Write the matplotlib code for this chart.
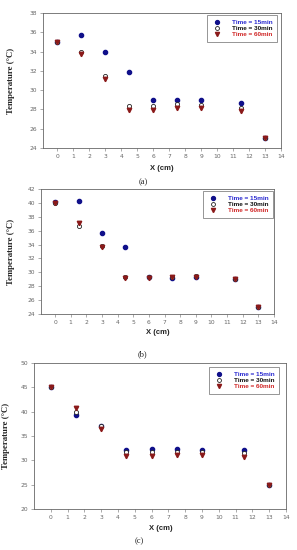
import matplotlib
matplotlib.use("Agg")
import matplotlib.pyplot as plt
from matplotlib.lines import Line2D

x = [0, 1.5, 3, 4.5, 6, 7.5, 9, 11.5, 13]

a_15 = [35.0, 35.7, 34.0, 31.9, 29.0, 29.0, 29.0, 28.7, 25.0]
a_30 = [35.0, 34.0, 31.5, 28.4, 28.4, 28.6, 28.5, 28.2, 25.0]
a_60 = [35.0, 33.7, 31.2, 27.9, 27.9, 28.2, 28.2, 27.8, 25.0]

b_15 = [40.1, 40.2, 35.6, 33.6, 29.3, 29.2, 29.4, 29.1, 25.0]
b_30 = [40.0, 36.7, 33.8, 29.3, 29.3, 29.4, 29.5, 29.1, 25.0]
b_60 = [40.0, 37.1, 33.7, 29.2, 29.2, 29.4, 29.4, 29.1, 25.0]

c_15 = [45.0, 39.3, 37.0, 32.2, 32.3, 32.3, 32.2, 32.1, 25.0]
c_30 = [45.0, 40.0, 37.1, 31.8, 31.8, 31.8, 31.8, 31.6, 25.0]
c_60 = [45.0, 40.7, 36.4, 30.8, 30.9, 31.1, 31.1, 30.6, 25.0]

series_labels = ["Time = 15min", "Time = 30min", "Time = 60min"]
panel_labels = ["(a)", "(b)", "(c)"]

xticks = list(range(0, 15))
yticks_a = list(range(24, 39, 2))
yticks_b = list(range(24, 43, 2))
yticks_c = list(range(20, 51, 5))

BLUE = "#10108a"
RED = "#8b1a1a"
TXT_BLUE = "#2a2ad0"
TXT_RED = "#d02828"
SERIF = "Liberation Serif"
SANS = "Liberation Sans"

fig = plt.figure(figsize=(2.97, 5.5), dpi=100)

panels = [
    dict(rect=[43/297, 1-148/550, 238/297, 135/550], data=(a_15, a_30, a_60), yt=yticks_a,
         xlim=(-0.9, 14), xl_y=169, xl_x=162, pl_y=182, pl_x=143, yl_x=15, leg=(207, 15)),
    dict(rect=[41/297, 1-314/550, 233/297, 125/550], data=(b_15, b_30, b_60), yt=yticks_b,
         xlim=(-0.9, 14), xl_y=332, xl_x=158, pl_y=354, pl_x=142, yl_x=15, leg=(203, 191)),
    dict(rect=[34/297, 1-509/550, 252/297, 146/550], data=(c_15, c_30, c_60), yt=yticks_c,
         xlim=(-1, 14), xl_y=529, xl_x=161, pl_y=541, pl_x=139, yl_x=10, leg=(209, 367)),
]

for i, p in enumerate(panels):
    ax = fig.add_axes(p["rect"])
    s15, s30, s60 = p["data"]
    ax.plot(x, s15, linestyle="none", marker="o", ms=3.0, color=BLUE, mec=BLUE)
    ax.plot(x, s30, linestyle="none", marker="o", ms=3.0, mfc="white", mec="#222222", mew=0.6)
    ax.plot(x, s60, linestyle="none", marker="v", ms=3.2, color=RED, mec=RED)
    ax.set_xlim(*p["xlim"])
    ax.set_ylim(p["yt"][0], p["yt"][-1])
    ax.set_xticks(xticks)
    ax.set_yticks(p["yt"])
    ax.tick_params(axis="both", direction="out", length=2, width=0.5, labelsize=4.3,
                   labelcolor="#666666", color="#888888", pad=2)
    for sp in ax.spines.values():
        sp.set_linewidth(0.6)
        sp.set_color("#666666")
    ax.set_ylabel("Temperature (°C)", fontfamily=SERIF, fontweight="bold", fontsize=6.3, color="#222222")
    ax.yaxis.set_label_coords((p["yl_x"] - p["rect"][0]*297) / (p["rect"][2]*297), 0.5)
    fig.text(p["xl_x"]/297, 1 - p["xl_y"]/550, "X (cm)", ha="center", va="center",
             fontfamily=SANS, fontweight="bold", fontsize=5.5, color="#222222")
    fig.text(p["pl_x"]/297, 1 - p["pl_y"]/550, panel_labels[i], ha="center", va="center",
             fontfamily=SERIF, fontsize=6, color="#222222")
    lx, ly = p["leg"]
    handles = [
        Line2D([], [], linestyle="none", marker="o", ms=2.8, color=BLUE),
        Line2D([], [], linestyle="none", marker="o", ms=2.8, mfc="white", mec="#222222", mew=0.6),
        Line2D([], [], linestyle="none", marker="v", ms=3.0, color=RED),
    ]
    leg = ax.legend(handles, series_labels, loc="upper left",
                    bbox_to_anchor=((lx - p["rect"][0]*297) / (p["rect"][2]*297),
                                    1 - (ly - (1 - p["rect"][1] - p["rect"][3])*550) / (p["rect"][3]*550)),
                    prop=dict(family=SANS, weight="bold", size=4.6),
                    frameon=True, fancybox=False, borderpad=0.7, labelspacing=0.1,
                    handlelength=1.6, handletextpad=1.6, borderaxespad=0)
    leg.get_frame().set_edgecolor("#666666")
    leg.get_frame().set_linewidth(0.6)
    for t, c in zip(leg.get_texts(), [TXT_BLUE, "#111111", TXT_RED]):
        t.set_color(c)

fig.savefig("out.png", dpi=100)
